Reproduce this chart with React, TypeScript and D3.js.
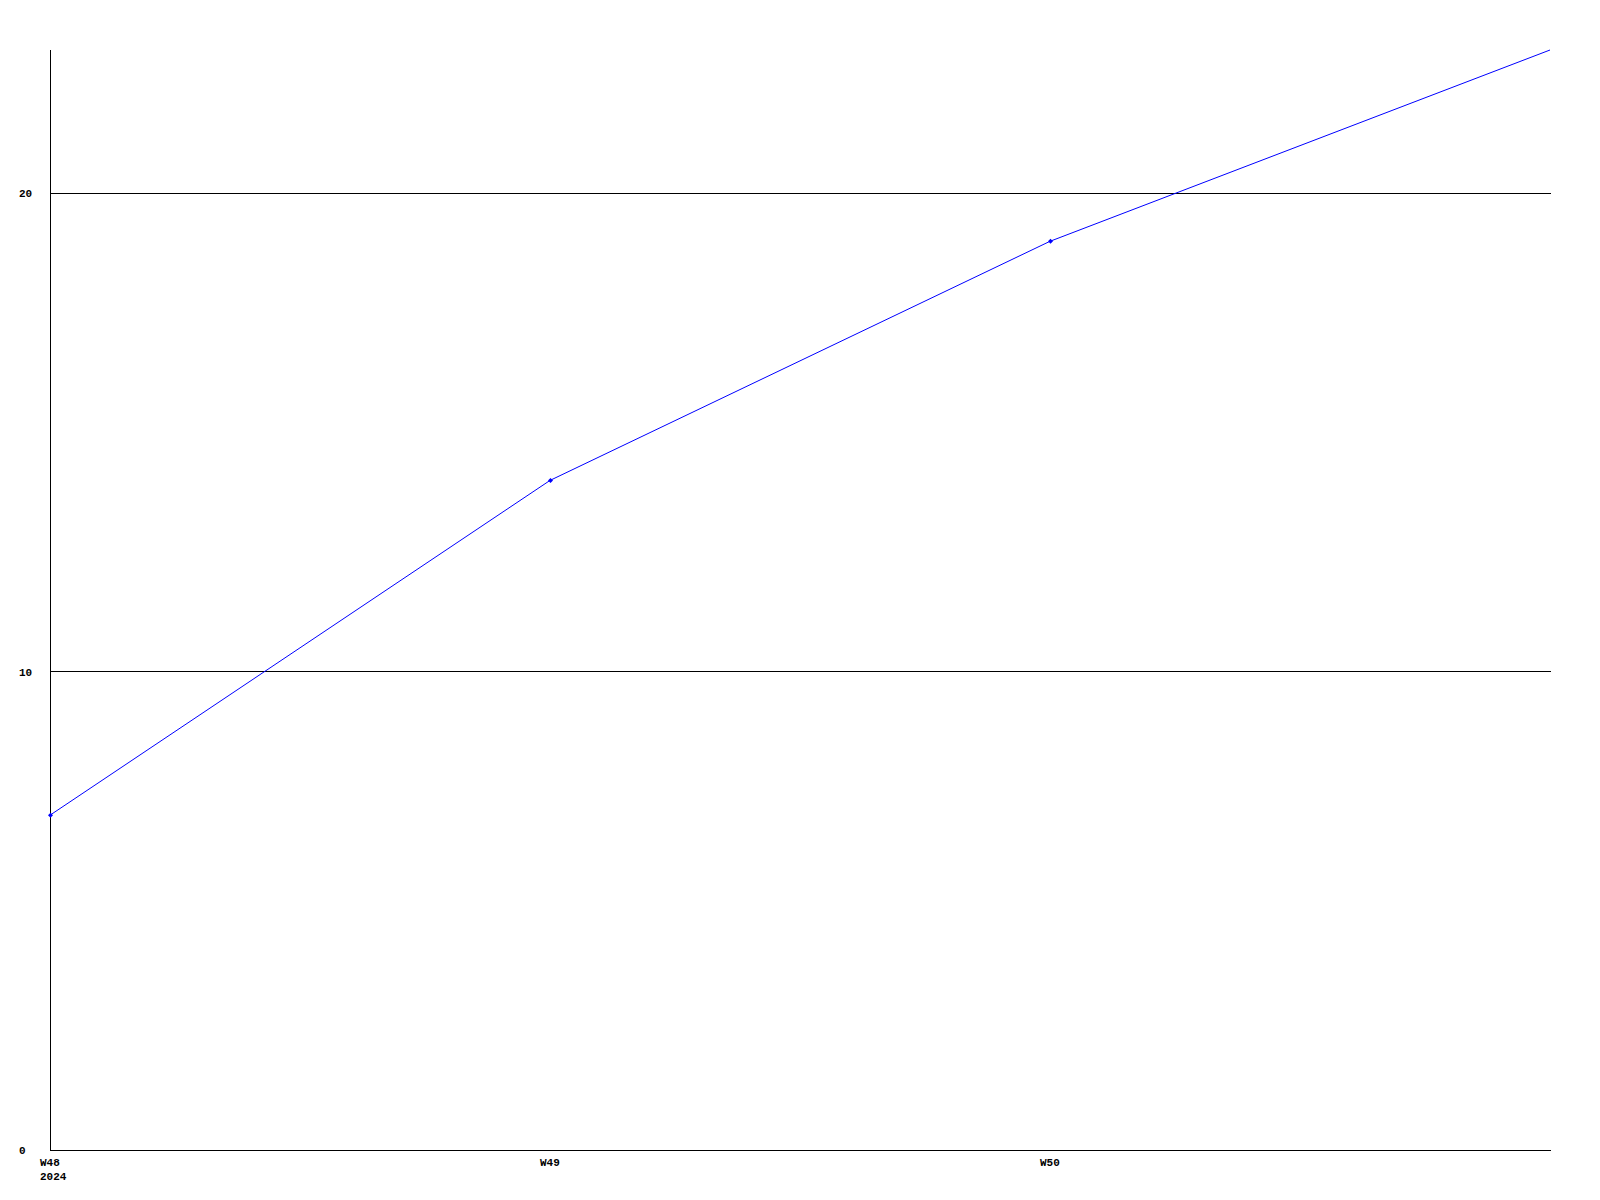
import React from "react";
import * as d3 from "d3";

const weeks = ["W48", "W49", "W50", "W51"];
const values = [7, 14, 19, 23];
const weekLabels = ["W48", "W49", "W50"];
const yearLabel = "2024";
const yTicks = [0, 10, 20];

const W = 1600;
const H = 1200;
const left = 50;
const right = 1550;
const top = 50;
const bottom = 1150;

export default function App() {
  const x = d3.scalePoint<string>().domain(weeks).range([left, right]);
  const y = d3.scaleLinear().domain([0, 23]).range([bottom, top]);
  const data = weeks.map((w, i) => ({ w, v: values[i] }));
  const line = d3
    .line<{ w: string; v: number }>()
    .x((d) => x(d.w) as number)
    .y((d) => y(d.v));
  const font = { fontFamily: "'Liberation Mono', 'DejaVu Sans Mono', monospace", fontSize: 11, fontWeight: 700 };
  return (
    <svg
      width={W}
      height={H}
      style={{ position: "absolute", left: 0, top: 0, background: "#fff" }}
    >
      <rect x={0} y={0} width={W} height={H} fill="#fff" />
      {yTicks.filter((t) => t > 0).map((t) => (
        <line
          key={t}
          x1={left}
          x2={right + 1}
          y1={Math.floor(y(t)) + 0.5}
          y2={Math.floor(y(t)) + 0.5}
          stroke="#000"
          strokeWidth={1}
        />
      ))}
      <line x1={left + 0.5} x2={left + 0.5} y1={top} y2={bottom + 1} stroke="#000" strokeWidth={1} />
      <line x1={left} x2={right + 1} y1={bottom + 0.5} y2={bottom + 0.5} stroke="#000" strokeWidth={1} />
      {yTicks.map((t) => (
        <text key={t} x={19} y={y(t)} dy="0.35em" {...font} fill="#000">
          {t}
        </text>
      ))}
      {weekLabels.map((w) => (
        <text key={w} x={(x(w) as number) - 10} y={1166} {...font} fill="#000">
          {w}
        </text>
      ))}
      <text x={(x(weeks[0]) as number) - 10} y={1180} {...font} fill="#000">
        {yearLabel}
      </text>
      <path d={line(data) || ""} fill="none" stroke="#0000ff" strokeWidth={1} />
      {data.slice(0, 3).map((d) => {
        const cx = (x(d.w) as number) + 0.5;
        const cy = y(d.v);
        return (
          <path
            key={d.w}
            d={`M${cx - 2.5},${cy} L${cx},${cy - 2.5} L${cx + 2.5},${cy} L${cx},${cy + 2.5} Z`}
            fill="#0000ff"
          />
        );
      })}
    </svg>
  );
}
